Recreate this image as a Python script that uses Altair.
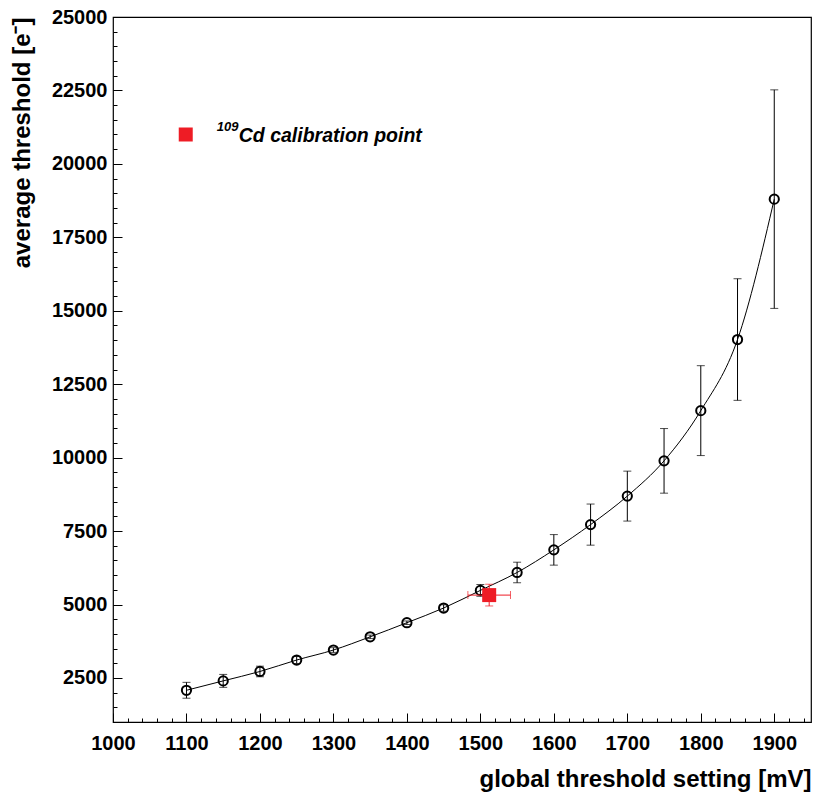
import altair as alt
import pandas as pd

# ---- data ----
setting_mv = [1100, 1150, 1200, 1250, 1300, 1350, 1400, 1450, 1500, 1550,
              1600, 1650, 1700, 1750, 1800, 1850, 1900]
threshold_e = [2080, 2400, 2720, 3110, 3450, 3900, 4380, 4880, 5480, 6090,
               6860, 7720, 8690, 9890, 11600, 14020, 18800]
threshold_err = [270, 220, 180, 120, 80, 60, 60, 110, 200, 350,
                 520, 700, 850, 1100, 1530, 2070, 3720]

cal_x = [1512]
cal_y = [5320]
cal_xerr = [29]
cal_yerr = [370]

legend_x = [1099]
legend_y = [21000]

x_major = [1000, 1100, 1200, 1300, 1400, 1500, 1600, 1700, 1800, 1900]
x_minor = list(range(1000, 1951, 20))
y_major = [2500, 5000, 7500, 10000, 12500, 15000, 17500, 20000, 22500, 25000]
y_minor = list(range(1000, 25001, 500))

X_DOM = [1000, 1950]
Y_DOM = [1000, 25000]

df = pd.DataFrame({"x": setting_mv, "y": threshold_e, "e": threshold_err})
df["lo"] = df["y"] - df["e"]
df["hi"] = df["y"] + df["e"]

cal = pd.DataFrame({"x": cal_x, "y": cal_y, "xe": cal_xerr, "ye": cal_yerr})
cal["xlo"] = cal["x"] - cal["xe"]
cal["xhi"] = cal["x"] + cal["xe"]
cal["ylo"] = cal["y"] - cal["ye"]
cal["yhi"] = cal["y"] + cal["ye"]

leg = pd.DataFrame({"x": legend_x, "y": legend_y})

FONT = "Liberation Sans"
RED = "#ee1c25"

xs = alt.Scale(domain=X_DOM, nice=False, zero=False)
ys = alt.Scale(domain=Y_DOM, nice=False, zero=False)

x_major_axis = alt.Axis(values=x_major, format="d", tickSize=9, offset=-9, domain=False, grid=False,
                        labelFont=FONT, labelFontSize=20, labelFontWeight="bold",
                        labelColor="black", labelPadding=11, tickColor="black",
                        title="global threshold setting [mV]", titleFont=FONT,
                        titleFontSize=24, titleFontWeight="bold", titleColor="black",
                        titleAnchor="end", titlePadding=14, labelFlush=False)
y_major_axis = alt.Axis(values=y_major, format="d", tickSize=9, offset=-9, domain=False, grid=False,
                        labelFont=FONT, labelFontSize=20, labelFontWeight="bold",
                        labelColor="black", labelPadding=6, tickColor="black",
                        title="average threshold [e⁻]", titleFont=FONT,
                        titleFontSize=24, titleFontWeight="bold", titleColor="black",
                        titleAnchor="end", titlePadding=17, labelFlush=False)
x_minor_axis = alt.Axis(values=x_minor, tickSize=4, offset=-4, domain=False, grid=False,
                        labels=False, title=None, tickColor="black", orient="bottom")
y_minor_axis = alt.Axis(values=y_minor, tickSize=4, offset=-4, domain=False, grid=False,
                        labels=False, title=None, tickColor="black", orient="left")

line = alt.Chart(df).mark_line(color="black", strokeWidth=1, interpolate="monotone").encode(
    x=alt.X("x:Q", scale=xs, axis=x_major_axis),
    y=alt.Y("y:Q", scale=ys, axis=y_major_axis),
)

minor = alt.Chart(df).mark_rule(color="black", strokeWidth=1).encode(
    x=alt.X("x:Q", scale=xs, axis=x_minor_axis),
    y=alt.Y("lo:Q", scale=ys, axis=y_minor_axis),
    y2="hi:Q",
)

caps_lo = alt.Chart(df).mark_tick(color="black", orient="horizontal", size=8, thickness=1).encode(
    x=alt.X("x:Q", scale=xs, axis=None), y=alt.Y("lo:Q", scale=ys, axis=None))
caps_hi = alt.Chart(df).mark_tick(color="black", orient="horizontal", size=8, thickness=1).encode(
    x=alt.X("x:Q", scale=xs, axis=None), y=alt.Y("hi:Q", scale=ys, axis=None))

pts = alt.Chart(df).mark_point(shape="circle", size=85, filled=False, color="black",
                               strokeWidth=2, opacity=1).encode(
    x=alt.X("x:Q", scale=xs, axis=None), y=alt.Y("y:Q", scale=ys, axis=None))

cal_v = alt.Chart(cal).mark_rule(color=RED, strokeWidth=1).encode(
    x=alt.X("x:Q", scale=xs, axis=None), y=alt.Y("ylo:Q", scale=ys, axis=None), y2="yhi:Q")
cal_h = alt.Chart(cal).mark_rule(color=RED, strokeWidth=1).encode(
    x=alt.X("xlo:Q", scale=xs, axis=None), x2="xhi:Q", y=alt.Y("y:Q", scale=ys, axis=None))
cal_cap_ylo = alt.Chart(cal).mark_tick(color=RED, orient="horizontal", size=8, thickness=1).encode(
    x=alt.X("x:Q", scale=xs, axis=None), y=alt.Y("ylo:Q", scale=ys, axis=None))
cal_cap_yhi = alt.Chart(cal).mark_tick(color=RED, orient="horizontal", size=8, thickness=1).encode(
    x=alt.X("x:Q", scale=xs, axis=None), y=alt.Y("yhi:Q", scale=ys, axis=None))
cal_cap_xlo = alt.Chart(cal).mark_tick(color=RED, orient="vertical", size=8, thickness=1).encode(
    x=alt.X("xlo:Q", scale=xs, axis=None), y=alt.Y("y:Q", scale=ys, axis=None))
cal_cap_xhi = alt.Chart(cal).mark_tick(color=RED, orient="vertical", size=8, thickness=1).encode(
    x=alt.X("xhi:Q", scale=xs, axis=None), y=alt.Y("y:Q", scale=ys, axis=None))
cal_sq = alt.Chart(cal).mark_square(size=196, color=RED, opacity=1, filled=True).encode(
    x=alt.X("x:Q", scale=xs, axis=None), y=alt.Y("y:Q", scale=ys, axis=None))

leg_sq = alt.Chart(leg).mark_square(size=196, color=RED, opacity=1, filled=True).encode(
    x=alt.X("x:Q", scale=xs, axis=None), y=alt.Y("y:Q", scale=ys, axis=None))
leg_sup = alt.Chart(leg).mark_text(text="109", font=FONT, fontSize=13, fontWeight="bold",
                                   fontStyle="italic", align="left", baseline="middle",
                                   dx=31, dy=-8, color="black").encode(
    x=alt.X("x:Q", scale=xs, axis=None), y=alt.Y("y:Q", scale=ys, axis=None))
leg_txt = alt.Chart(leg).mark_text(text="Cd calibration point", font=FONT, fontSize=19.5,
                                   fontWeight="bold", fontStyle="italic", align="left",
                                   baseline="middle", dx=53, dy=1, color="black").encode(
    x=alt.X("x:Q", scale=xs, axis=None), y=alt.Y("y:Q", scale=ys, axis=None))

chart = alt.layer(
    line, minor, caps_lo, caps_hi, pts,
    cal_v, cal_h, cal_cap_ylo, cal_cap_yhi, cal_cap_xlo, cal_cap_xhi, cal_sq,
    leg_sq, leg_sup, leg_txt,
).resolve_axis(x="independent", y="independent").properties(
    width=698, height=705,
    autosize=alt.AutoSizeParams(type="none"),
    padding={"left": 113, "top": 17, "right": 2, "bottom": 79},
    background="white",
).configure_view(stroke="black", strokeWidth=1.2)

chart.save("out.html", embed_options={"renderer": "svg", "actions": False})
